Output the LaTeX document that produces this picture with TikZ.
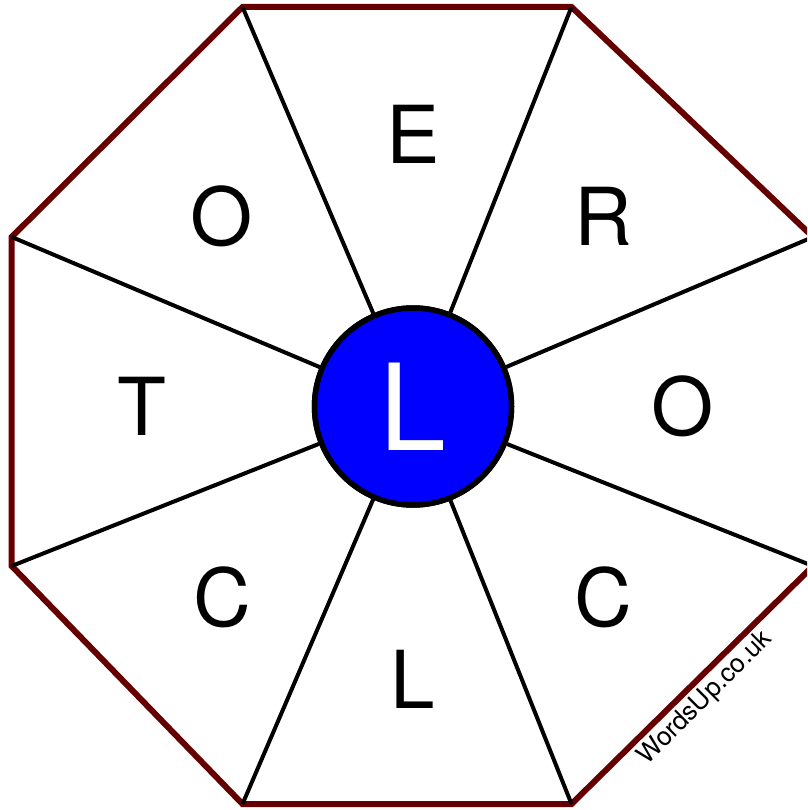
\documentclass[tikz,border=0pt]{standalone}
\usepackage{fontspec}
\setmainfont{TeX Gyre Heros}
\definecolor{octred}{RGB}{102,0,0}
\definecolor{hubblue}{RGB}{0,0,255}
\tikzset{
  letter/.style={inner sep=0pt, font=\fontsize{80}{80}\selectfont},
  spoke/.style={line width=4pt, black},
  rim/.style={line width=6pt, octred, line join=miter},
  hub/.style={circle, draw=black, line width=5.5pt, fill=hubblue, minimum size=197pt, inner sep=0pt, text=white, font=\fontsize{120}{120}\selectfont},
  mark text/.style={inner sep=0pt, font=\fontsize{26}{26}\selectfont, rotate=45, anchor=base}
}
\begin{document}
\begin{tikzpicture}[x=1pt,y=-1pt]
\useasboundingbox (0,0) rectangle (807,810);
\clip (0,0) rectangle (807,810);
\coordinate (v1) at (242.5,7);
\coordinate (v2) at (571.5,7);
\coordinate (v3) at (813,237);
\coordinate (v4) at (813,566);
\coordinate (v5) at (571.5,804);
\coordinate (v6) at (242.5,804);
\coordinate (v7) at (11.7,566);
\coordinate (v8) at (11.7,237);
\draw[rim] (v1) -- (v2) -- (v3) -- (v4) -- (v5) -- (v6) -- (v7) -- (v8) -- cycle;
\node[hub] (c) at (413,406.5) {};
\foreach \v in {v1,v2,v3,v4,v5,v6,v7,v8} \draw[spoke] (c) -- (\v);
\node[hub] (hubtext) at (c) {L};
\node[letter] (l1) at (413,134) {E};
\node[letter] (l2) at (603,216) {R};
\node[letter] (l3) at (683,406.5) {O};
\node[letter] (l4) at (603,597) {C};
\node[letter] (l5) at (413,679) {L};
\node[letter] (l6) at (222,597) {C};
\node[letter] (l7) at (142,406.5) {T};
\node[letter] (l8) at (222,216) {O};
\node[mark text] (wm) at (710,703) {WordsUp.co.uk};
\end{tikzpicture}
\end{document}
